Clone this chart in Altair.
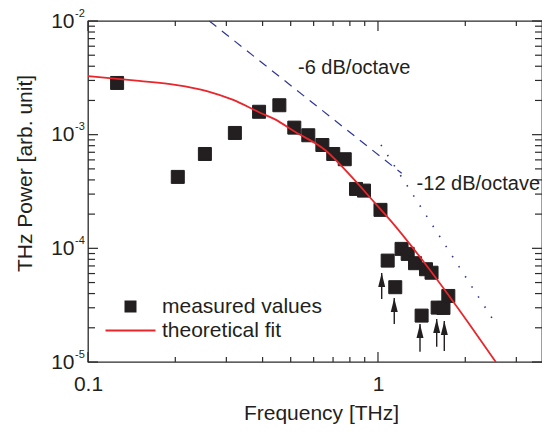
import altair as alt
import pandas as pd

# measured THz power (squares)
freq_meas = [0.126, 0.204, 0.253, 0.321, 0.389, 0.457, 0.5145, 0.575, 0.643, 0.701,
             0.768, 0.840, 0.895, 1.02, 1.08, 1.147, 1.206, 1.266, 1.342, 1.414,
             1.464, 1.53, 1.606, 1.682, 1.748]
power_meas = [2.85e-3, 4.25e-4, 6.76e-4, 1.035e-3, 1.59e-3, 1.815e-3, 1.153e-3, 9.88e-4,
              8.11e-4, 6.76e-4, 6.08e-4, 3.33e-4, 3.22e-4, 2.18e-4, 7.8e-5, 4.55e-5,
              9.89e-5, 8.93e-5, 7.4e-5, 2.56e-5, 6.55e-5, 6.1e-5, 3.01e-5, 2.99e-5, 3.81e-5]

# theoretical fit (red curve)
freq_fit = [0.1, 0.15, 0.2, 0.257, 0.317, 0.392, 0.44, 0.5175, 0.657, 0.81, 0.97, 1.1,
            1.45, 2.075, 2.55]
power_fit = [3.28e-3, 2.97e-3, 2.74e-3, 2.42e-3, 2.02e-3, 1.56e-3, 1.37e-3, 1.06e-3,
             7.33e-4, 4.27e-4, 2.55e-4, 1.78e-4, 7.4e-5, 2.12e-5, 1.0e-5]

# slope guide lines
freq_6db = [0.262, 1.207]
power_6db = [1.0e-2, 4.57e-4]
freq_12db = [1.024, 2.52]
power_12db = [8.13e-4, 2.26e-5]

# arrows (under the dips)
arrow_freq = [1.03, 1.138, 1.396, 1.594, 1.693]
arrow_tip = [6.08e-5, 3.66e-5, 2.16e-5, 2.39e-5, 2.30e-5]
arrow_tail = [3.59e-5, 2.16e-5, 1.23e-5, 1.36e-5, 1.25e-5]

# annotations
note_text = ["-6 dB/octave", "-12 dB/octave"]
note_freq = [0.53, 1.359]
note_power = [3.42e-3, 3.27e-4]

# axis ticks
y_major = [1e-5, 1e-4, 1e-3, 1e-2]
y_exp = ["-5", "-4", "-3", "-2"]
y_minor = [k * 10.0 ** e for e in (-5, -4, -3) for k in range(2, 10)]
x_major = [0.1, 1.0]
x_minor = [0.2, 0.3, 0.4, 0.5, 0.6, 0.7, 0.8, 0.9, 2.0, 3.0]

series = ["measured values", "theoretical fit"]

W, H = 454, 341
FONT = "Liberation Sans"
INK = "#231f20"
RED = "#e8262b"
BLUE = "#2f3596"
FRAME = "#2b2b2b"

xs = alt.Scale(type="log", domain=[0.1, 3.678], nice=False)
ys = alt.Scale(type="log", domain=[1e-5, 1e-2], nice=False)

meas = pd.DataFrame({"f": freq_meas, "p": power_meas, "s": series[0]})
fit = pd.DataFrame({"f": freq_fit, "p": power_fit, "s": series[1]})
d6 = pd.DataFrame({"f": freq_6db, "p": power_6db})
d12 = pd.DataFrame({"f": freq_12db, "p": power_12db})
arr = pd.DataFrame({"f": arrow_freq, "tip": arrow_tip, "tail": arrow_tail})
notes = pd.DataFrame({"f": note_freq, "p": note_power, "t": note_text})
ymaj = pd.DataFrame({"v": y_major, "e": y_exp})
ymin = pd.DataFrame({"v": y_minor})
xmaj = pd.DataFrame({"v": x_major})
xmin = pd.DataFrame({"v": x_minor})

fill_scale = alt.Scale(domain=series, range=[INK, "transparent"])
stroke_scale = alt.Scale(domain=series, range=[INK, RED])
shape_scale = alt.Scale(domain=series, range=["square", "M-5,0L5,0"])

legend = alt.Legend(
    title=None, orient="none", legendX=32, legendY=275, padding=0,
    labelFont=FONT, labelFontSize=21, labelColor=INK, labelOffset=21,
    symbolSize=100, symbolStrokeWidth=2, rowPadding=2,
)

X = alt.X("f:Q", scale=xs, axis=alt.Axis(
    values=x_major, format="~g", title="Frequency [THz]", titleX=233, titleY=57,
    titleBaseline="alphabetic"))
Y = alt.Y("p:Q", scale=ys, axis=alt.Axis(
    values=y_major, labelExpr="'10'", title="THz Power [arb. unit]",
    titleX=-57, titleY=152, titleBaseline="alphabetic", titleAlign="center",
    labelPadding=14))

squares = alt.Chart(meas).mark_point(filled=True, size=169, strokeWidth=1, opacity=1).encode(
    x=X, y=Y,
    fill=alt.Fill("s:N", scale=fill_scale, legend=legend),
    stroke=alt.Stroke("s:N", scale=stroke_scale, legend=legend),
    shape=alt.Shape("s:N", scale=shape_scale, legend=legend),
)

fitline = alt.Chart(fit).mark_line(strokeWidth=1.8, interpolate="monotone").encode(
    x="f:Q", y="p:Q",
    stroke=alt.Stroke("s:N", scale=stroke_scale, legend=legend),
)

dash6 = alt.Chart(d6).mark_line(color=BLUE, strokeWidth=1.2, strokeDash=[9, 7]).encode(
    x="f:Q", y="p:Q")
dot12 = alt.Chart(d12).mark_line(color=BLUE, strokeWidth=1.6, strokeDash=[1.5, 10.5]).encode(
    x="f:Q", y="p:Q")

arrows = alt.Chart(arr).mark_rule(color=INK, strokeWidth=1.4).encode(
    x="f:Q", y="tip:Q", y2="tail:Q")
heads = alt.Chart(arr).mark_point(shape="M0,0L0.5,2L-0.5,2Z", size=196, filled=True,
                                  color=INK, opacity=1).encode(x="f:Q", y="tip:Q")

note_layer = alt.Chart(notes).mark_text(align="left", baseline="alphabetic", font=FONT,
                                       fontSize=20, color=INK).encode(
    x="f:Q", y="p:Q", text="t:N")

exps = alt.Chart(ymaj).mark_text(align="left", baseline="middle", font=FONT, fontSize=11,
                                 color=INK, dx=-13, dy=-7.5).encode(
    x=alt.value(0), y=alt.Y("v:Q"), text="e:N")

def rule_y(df, x0, x1):
    return alt.Chart(df).mark_rule(color=FRAME, strokeWidth=1.2).encode(
        x=alt.value(x0), x2=alt.value(x1), y=alt.Y("v:Q"))

def rule_x(df, y0, y1):
    return alt.Chart(df).mark_rule(color=FRAME, strokeWidth=1.2).encode(
        y=alt.value(y0), y2=alt.value(y1), x=alt.X("v:Q"))

ticks = [
    rule_y(ymaj, 0, 10), rule_y(ymin, 0, 7), rule_y(ymaj, W - 10, W), rule_y(ymin, W - 7, W),
    rule_x(xmaj, H - 10, H), rule_x(xmin, H - 5, H), rule_x(xmaj, 0, 10), rule_x(xmin, 0, 5),
]

chart = alt.layer(
    squares, arrows, heads, fitline, dash6, dot12, note_layer, exps, *ticks
).resolve_scale(x="shared", y="shared").properties(
    width=W, height=H,
    autosize=alt.AutoSizeParams(type="none"),
    padding={"left": 80, "top": 13, "right": 0, "bottom": 62},
).configure_view(
    stroke=FRAME, strokeWidth=1.3
).configure_axis(
    domain=False, ticks=False, tickSize=0, grid=False, labelFlush=False,
    labelFont=FONT, labelFontSize=21, labelColor=INK,
    titleFont=FONT, titleFontSize=21, titleFontWeight="normal", titleColor=INK,
).configure_axisX(labelPadding=11)

chart.save("out.html", embed_options={"renderer": "svg", "actions": False})
